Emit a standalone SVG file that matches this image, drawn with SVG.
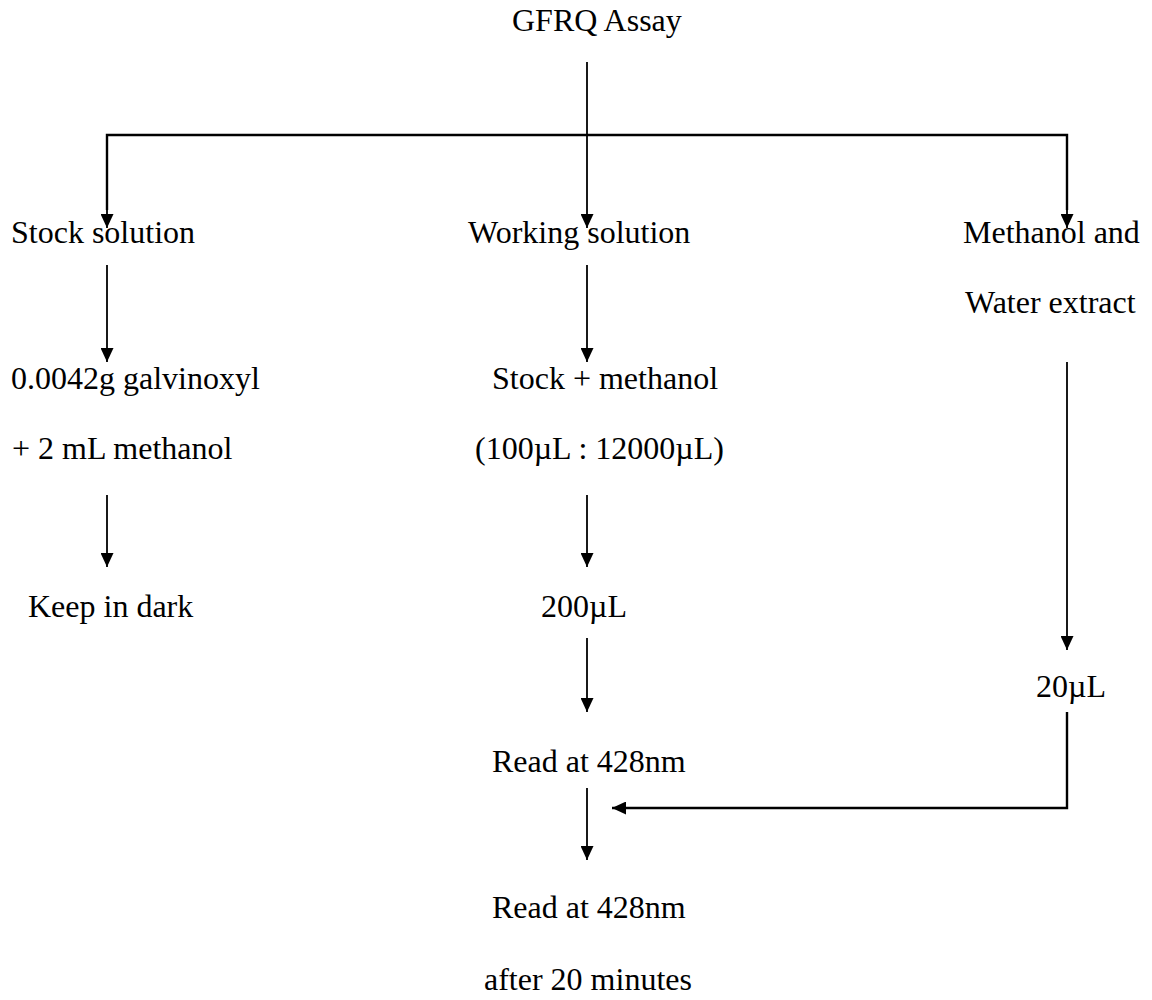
<svg xmlns="http://www.w3.org/2000/svg" width="1152" height="1000" viewBox="0 0 1152 1000" font-family="Liberation Serif, Times New Roman, serif">
<style>
text{font-family:"Liberation Serif","Times New Roman",serif;font-size:32px;fill:#000}
.ln{stroke:#000;stroke-width:1.8;fill:none}
.bar{stroke:#000;stroke-width:2.4;fill:none}
</style>
<defs>
<marker id="ah" viewBox="0 0 14 13" refX="14" refY="6.5" markerWidth="14" markerHeight="13" markerUnits="userSpaceOnUse" orient="auto">
<path d="M0,0 L14,6.5 L0,13 Z" fill="#000"/>
</marker>
</defs>
<rect width="1152" height="1000" fill="#fff"/>
<g id="connectors">
<line class="ln" x1="587" y1="62" x2="587" y2="135"/>
<polyline class="bar" points="107,210 107,135 1067,135 1067,210"/>
<line class="ln" x1="107" y1="135" x2="107" y2="228" marker-end="url(#ah)"/>
<line class="ln" x1="587" y1="135" x2="587" y2="228" marker-end="url(#ah)"/>
<line class="ln" x1="1067" y1="135" x2="1067" y2="228" marker-end="url(#ah)"/>
<line class="ln" x1="107" y1="265" x2="107" y2="362" marker-end="url(#ah)"/>
<line class="ln" x1="107" y1="495" x2="107" y2="567" marker-end="url(#ah)"/>
<line class="ln" x1="587" y1="265" x2="587" y2="362" marker-end="url(#ah)"/>
<line class="ln" x1="587" y1="495" x2="587" y2="567" marker-end="url(#ah)"/>
<line class="ln" x1="587" y1="638" x2="587" y2="712" marker-end="url(#ah)"/>
<line class="ln" x1="587" y1="788" x2="587" y2="860" marker-end="url(#ah)"/>
<line class="ln" x1="1067" y1="362" x2="1067" y2="650" marker-end="url(#ah)"/>
<polyline class="bar" points="1067,712 1067,808 612,808" marker-end="url(#ah)"/>
</g>
<g id="title"><text x="512" y="31">GFRQ Assay</text></g>
<g id="stock-solution"><text x="11" y="243">Stock solution</text></g>
<g id="working-solution"><text x="468" y="243">Working solution</text></g>
<g id="extract"><text x="963" y="243">Methanol and</text><text x="965" y="313">Water extract</text></g>
<g id="galvinoxyl"><text x="11" y="389">0.0042g galvinoxyl</text><text x="12" y="459">+ 2 mL methanol</text></g>
<g id="keep-dark"><text x="28" y="617">Keep in dark</text></g>
<g id="stock-methanol"><text x="492" y="389">Stock + methanol</text><text x="475" y="459">(100µL : 12000µL)</text></g>
<g id="vol200"><text x="541" y="617">200µL</text></g>
<g id="vol20"><text x="1036" y="697">20µL</text></g>
<g id="read1"><text x="492" y="772">Read at 428nm</text></g>
<g id="read2"><text x="492" y="918">Read at 428nm</text><text x="484" y="990">after 20 minutes</text></g>
</svg>
